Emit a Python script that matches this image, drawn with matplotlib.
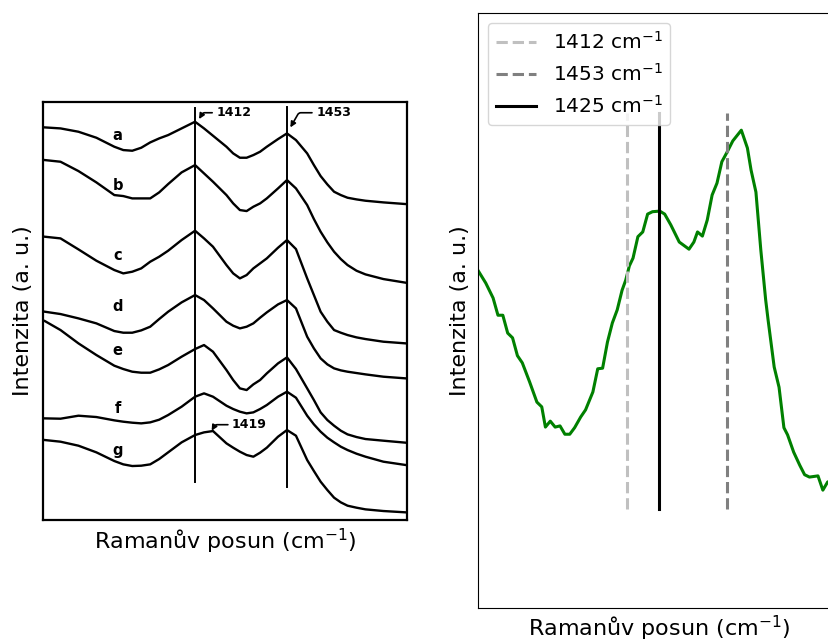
import matplotlib.pyplot as plt

wn_lit = [1345, 1352, 1360, 1368, 1376, 1380, 1384, 1388, 1392, 1396, 1400, 1406, 1412, 1416,
          1420, 1426, 1429, 1432, 1435, 1438, 1441, 1444, 1449, 1453, 1457, 1462, 1465, 1468,
          1471, 1474, 1477, 1480, 1484, 1488, 1496, 1506]
spec_a = [117.8, 117.5, 116.5, 114.7, 112.0, 111.0, 110.8, 111.7, 113.3, 114.5, 115.5, 117.5,
          119.5, 117.5, 115.3, 112.0, 110.0, 108.7, 108.7, 109.5, 110.5, 112.0, 114.3, 116.0,
          114.0, 110.0, 106.5, 103.2, 100.7, 98.5, 97.5, 96.7, 96.2, 95.8, 95.3, 94.8]
spec_b = [108.0, 107.5, 104.7, 101.3, 97.5, 97.2, 96.5, 96.5, 96.5, 98.3, 100.8, 104.3,
          106.5, 104.0, 101.5, 97.5, 95.0, 93.0, 92.7, 94.0, 95.0, 96.5, 99.5, 102.0,
          99.5, 94.5, 90.3, 86.5, 83.3, 80.5, 78.3, 76.5, 74.8, 73.7, 72.3, 71.2]
spec_c = [85.0, 84.5, 81.2, 77.8, 75.0, 74.0, 74.5, 75.5, 77.5, 79.0, 80.8, 84.0,
          86.8, 84.5, 82.0, 76.5, 74.0, 72.5, 73.5, 75.5, 77.0, 78.5, 81.7, 84.0,
          81.3, 72.5, 67.5, 62.5, 59.5, 57.0, 56.2, 55.5, 54.8, 54.3, 53.5, 53.0]
spec_d = [62.5, 61.8, 60.5, 59.0, 56.7, 56.2, 56.2, 56.9, 58.0, 60.3, 62.5, 65.3,
          67.5, 66.0, 63.5, 59.5, 58.3, 57.5, 58.0, 59.0, 60.7, 62.3, 64.7, 66.0,
          63.5, 55.0, 51.5, 48.5, 46.7, 45.5, 44.9, 44.5, 44.1, 43.7, 43.0, 42.5]
spec_e = [59.7, 57.0, 53.0, 49.5, 46.3, 45.3, 44.5, 44.2, 44.2, 45.2, 46.5, 49.0,
          51.3, 52.5, 50.5, 45.0, 42.0, 39.5, 39.0, 40.7, 42.0, 44.0, 47.0, 48.8,
          45.3, 39.5, 36.0, 32.3, 30.0, 28.3, 26.8, 25.7, 24.9, 24.3, 23.8, 23.2]
spec_f = [30.5, 30.4, 31.3, 30.9, 29.9, 29.5, 29.2, 29.0, 29.3, 30.1, 31.5, 34.0,
          37.0, 38.0, 37.0, 34.3, 33.3, 32.5, 32.0, 32.3, 33.3, 34.5, 37.0, 38.5,
          36.7, 31.3, 28.7, 26.5, 24.7, 23.3, 22.0, 21.0, 19.9, 19.0, 17.5, 16.5]
spec_g = [24.0, 23.5, 22.3, 20.3, 17.7, 16.7, 16.2, 16.3, 16.7, 18.3, 20.3, 23.3,
          25.5, 26.3, 26.7, 23.0, 21.7, 20.5, 19.5, 19.0, 20.2, 21.7, 25.0, 27.0,
          25.3, 18.0, 14.7, 11.5, 9.0, 6.7, 5.3, 4.3, 3.7, 3.2, 2.7, 2.3]
lit_names = ['a', 'b', 'c', 'd', 'e', 'f', 'g']
lit_specs = [spec_a, spec_b, spec_c, spec_d, spec_e, spec_f, spec_g]
name_y = [115.5, 100.5, 79.5, 64.2, 51.0, 33.6, 21.0]

# measured spectrum
wn = [1351, 1354, 1357, 1359, 1361, 1363, 1365, 1367, 1369, 1372, 1375, 1377, 1378.5, 1380.5,
      1382.5, 1384.5, 1386.5, 1388.5, 1390.5, 1393, 1395, 1398, 1400, 1402, 1404, 1406, 1408,
      1410, 1411.5, 1413, 1414.5, 1416.5, 1418.5, 1420.5, 1422.5, 1425.5, 1427.5, 1430, 1433.5,
      1437.5, 1439.5, 1441, 1443, 1445, 1447, 1449, 1451, 1453, 1455.5, 1459, 1461.5, 1463,
      1465, 1467, 1469, 1470, 1472.5, 1474.5, 1476.5, 1478, 1480.5, 1483, 1485, 1487, 1490.5,
      1492.5, 1494.5, 1496, 1498]
intensity = [56.6, 54.6, 52.1, 49.2, 49.2, 46.2, 45.4, 42.4, 41.2, 38.0, 34.6, 33.8, 30.4, 31.4,
             30.4, 30.6, 29.2, 29.2, 30.3, 32.1, 33.3, 36.3, 40.2, 40.3, 44.7, 47.9, 50.1,
             53.4, 55.1, 57.5, 58.8, 62.4, 63.2, 66.2, 66.6, 66.7, 66.2, 64.4, 61.5,
             60.3, 61.5, 63.2, 62.5, 65.2, 69.4, 71.4, 75.0, 76.5, 78.5, 80.3, 77.3, 73.6,
             69.9, 60.2, 51.8, 48.4, 40.5, 37.1, 30.3, 29.1, 26.2, 24.0, 22.4, 22.0, 22.2,
             19.8, 21.2, 21.0, 21.5]

bands = [1412, 1453, 1425]
band_colors = ['silver', 'gray', 'black']
band_styles = ['--', '--', '-']

fig = plt.figure(figsize=(8.29, 6.42), dpi=100)

# left: literature spectra
ax1 = fig.add_axes([0.0519, 0.19, 0.439, 0.651])
for name, spec, ny in zip(lit_names, lit_specs, name_y):
    ax1.plot(wn_lit, spec, color='black', lw=1.7, solid_joinstyle='round')
    ax1.text(1377.5, ny, name, fontsize=10.5, fontweight='bold', ha='center', va='center')
ax1.plot([1412, 1412], [11.5, 123.5], color='black', lw=1.4)
ax1.plot([1453, 1453], [10.0, 124.0], color='black', lw=1.4)
arrow = dict(arrowstyle='-|>', color='black', lw=1.2, mutation_scale=8, shrinkA=1, shrinkB=0,
             connectionstyle='angle,angleA=0,angleB=60,rad=2')
ax1.annotate('1412', xy=(1413.8, 120.3), xytext=(1421.5, 122.2), fontsize=9, fontweight='bold',
             va='center', arrowprops=arrow)
ax1.annotate('1453', xy=(1454.5, 117.8), xytext=(1466.0, 122.2), fontsize=9, fontweight='bold',
             va='center', arrowprops=arrow)
ax1.annotate('1419', xy=(1419.4, 26.8), xytext=(1428.5, 28.6), fontsize=9, fontweight='bold',
             va='center', arrowprops=arrow)
ax1.set_xlim(1344.2, 1506.5)
ax1.set_ylim(0, 125.4)
ax1.set_xticks([])
ax1.set_yticks([])
for s in ax1.spines.values():
    s.set_linewidth(1.6)
ax1.set_xlabel('Ramanův posun (cm$^{-1}$)', fontsize=16, labelpad=5)
ax1.set_ylabel('Intenzita (a. u.)', fontsize=16, labelpad=7)

# right: measured spectrum with band positions
ax2 = fig.add_axes([0.5766, 0.053, 0.438, 0.9268])
ax2.plot(wn, intensity, color='green', lw=2.2)
for b, c, ls in zip(bands, band_colors, band_styles):
    ax2.plot([b, b], [16.6, 83.2], color=c, ls=ls, lw=2.2, label=f'{b} cm$^{{-1}}$')
ax2.set_xlim(1350.8, 1500)
ax2.set_ylim(0, 100)
ax2.set_xticks([])
ax2.set_yticks([])
ax2.set_xlabel('Ramanův posun (cm$^{-1}$)', fontsize=16, labelpad=4)
ax2.set_ylabel('Intenzita (a. u.)', fontsize=16, labelpad=6)
ax2.legend(loc='upper left', fontsize=14.5)

fig.savefig('out.png', dpi=100)
